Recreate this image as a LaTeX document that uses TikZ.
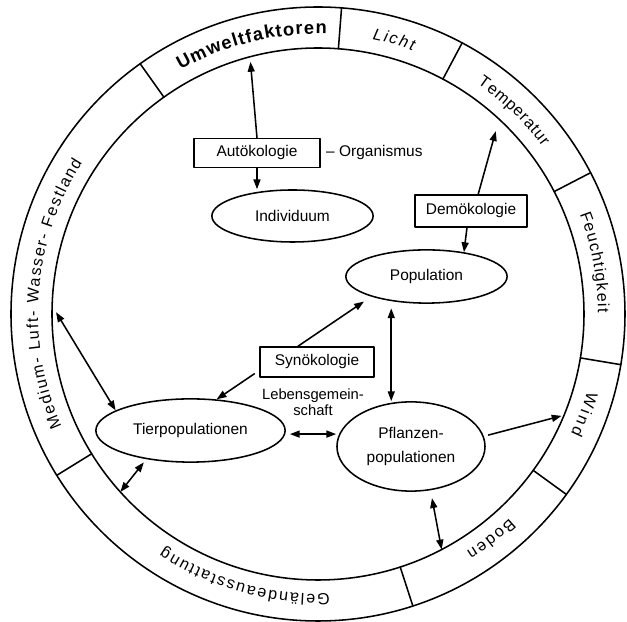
\documentclass[tikz,border=0pt]{standalone}
\usepackage{fontspec}
\setmainfont{Liberation Sans}
\usetikzlibrary{shapes.geometric,arrows.meta,decorations.text,positioning}
\newcommand\knotfont{\fontsize{11}{17.5}\selectfont}
\newcommand\ringfont{\fontsize{11.5}{13}\selectfont}

\begin{document}
\begin{tikzpicture}[x=0.025cm, y=0.025cm, line join=round, line cap=round, >={Triangle[length=7pt,width=5pt]}, line width=1.1pt]
    \tikzset{kasten/.style={draw, rectangle, inner sep=0pt, font=\knotfont},
             oval/.style={draw, ellipse, inner sep=0pt, align=center, font=\knotfont},
             ringtext/.style={decorate, decoration={text along path, text align={fit to path}, text={#1}}}}
    \useasboundingbox (-318,-308) rectangle (309,314);
    % ring
    \draw (0,0) circle (266);
    \draw (0,0) circle (307);
    \foreach \a in {125.4,85.6,62,27.4,-9.5,-36,-72,211.7}
        \draw (\a:266) -- (\a:307);
    \path[ringtext={|\fontsize{13}{15}\selectfont\bfseries|Umweltfaktoren}] (119.4:280) arc[start angle=119.4, end angle=88.2, radius=280];
    \path[ringtext={|\ringfont\itshape|Licht}] (78.8:280) arc[start angle=78.8, end angle=70.2, radius=280];
    \path[ringtext={|\ringfont|Temperatur}] (55.3:280) arc[start angle=55.3, end angle=36.7, radius=280];
    \path[ringtext={|\ringfont|Feuchtigkeit}] (20.8:280) arc[start angle=20.8, end angle=0.3, radius=280];
    \path[ringtext={|\ringfont|Wind}] (-16:280) arc[start angle=-16, end angle=-25.4, radius=280];
    \path[ringtext={|\ringfont|Boden}] (-46.8:280) arc[start angle=-46.8, end angle=-58, radius=280];
    \path[ringtext={|\ringfont|Geländeausstattung}] (-87.6:280) arc[start angle=-87.6, end angle=-123.4, radius=280];
    \path[ringtext={|\ringfont|Medium- Luft- Wasser- Festland}] (203.7:280) arc[start angle=203.7, end angle=147.3, radius=280];
    % ends on the ring
    \coordinate (rU) at (105:261);
    \coordinate (rT) at (45.8:255);
    \coordinate (rW) at (-22.7:264);
    \coordinate (rB) at (-62.3:266);
    \coordinate (rG) at (222:266);
    \coordinate (rM) at (179.6:262);
    % nodes
    \node[kasten, minimum width=3.15cm, minimum height=0.72cm] (auto) at (-61,161) {Autökologie};
    \node[right=0pt of auto, font=\knotfont] (orga) {– Organismus};
    \node[oval, minimum width=4.03cm, minimum height=1.3cm] (indiv) at (-25.5,98) {Individuum};
    \node[kasten, minimum width=2.8cm, minimum height=0.8cm] (demo) at (153,103) {Demökologie};
    \node[oval, minimum width=4.03cm, minimum height=1.33cm] (popu) at (108.5,37.5) {Population};
    \node[kasten, minimum width=2.85cm, minimum height=0.75cm] (syno) at (-1,-48) {Synökologie};
    \node[align=center, font=\fontsize{10.5}{11}\selectfont] (lebens) at (-5,-88) {Lebensgemein-\\schaft};
    \node[oval, minimum width=4.73cm, minimum height=1.58cm] (tier) at (-127.5,-116.5) {Tierpopulationen};
    \node[oval, minimum width=3.7cm, minimum height=2.23cm] (pflanz) at (93,-132.5) {Pflanzen-\\populationen};
    % connectors
    \draw[->] (auto.north) -- (rU);
    \draw[->] (auto.south) -- (auto.south |- indiv.north);
    \draw[->] ([xshift=0.18cm]demo.north) -- (rT);
    \draw[->] ([xshift=-0.1cm]demo.south) -- (popu.33);
    \draw[->, shorten >=0.22cm] ([xshift=-0.475cm]syno.north) -- (popu.200);
    \draw[->] ([shift={(-0.12cm,0.1cm)}]syno.south west) -- (tier.50);
    \draw[<->, shorten <=0.18cm] (popu.215) -- (popu.215 |- pflanz.north);
    \draw[<->, shorten <=0.1cm] ([yshift=-0.09cm]tier.east) -- ([yshift=-0.09cm]tier.east -| pflanz.west);
    \draw[->, shorten <=0.12cm] (pflanz.8) -- (rW);
    \draw[<->] (rM) -- (tier.165);
    \draw[<->, shorten <=0.1cm] (tier.213) -- (rG);
    \draw[<->, shorten <=0.2cm] (pflanz.-66) -- (rB);
\end{tikzpicture}
\end{document}
